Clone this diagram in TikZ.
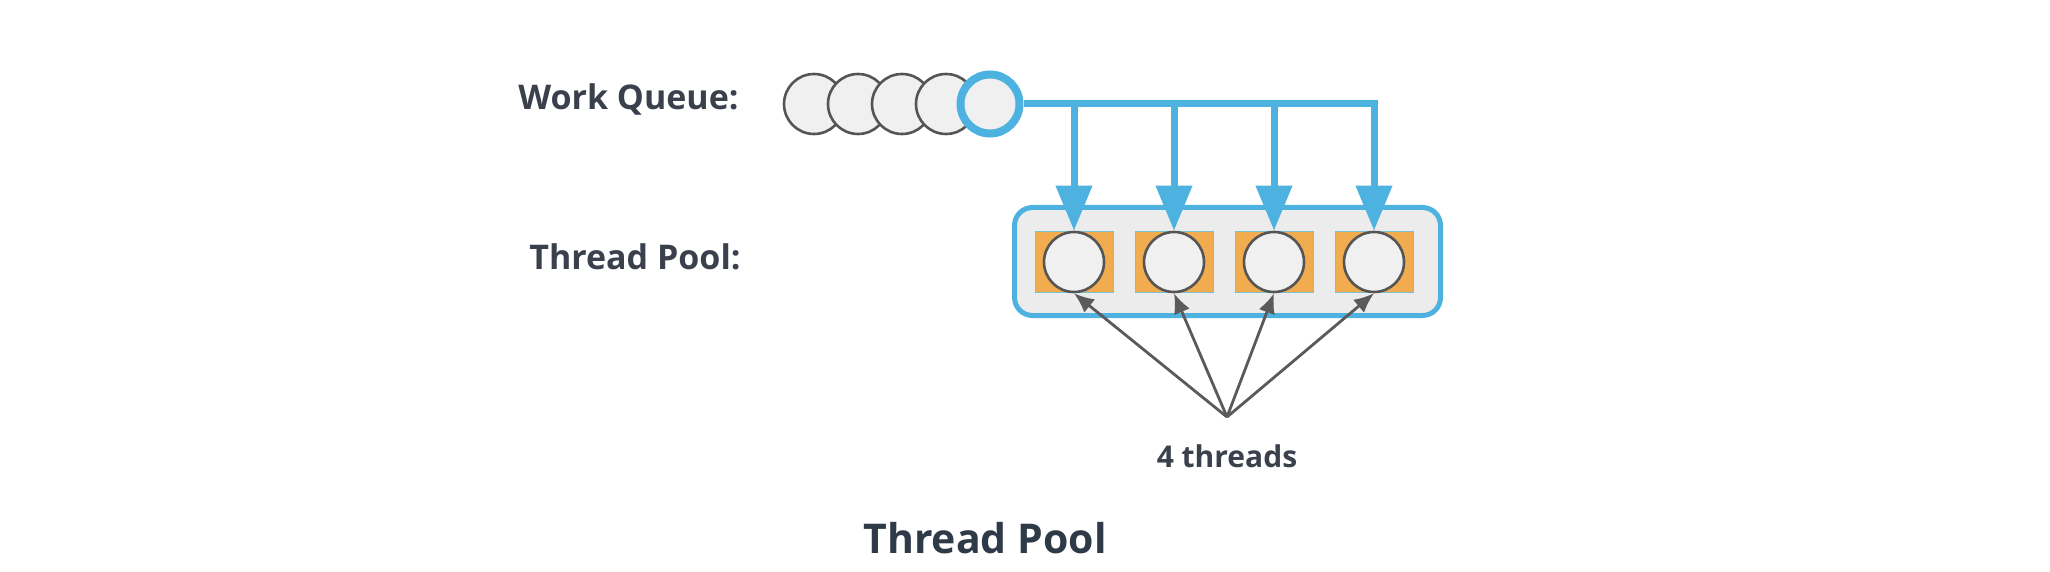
\documentclass[tikz,border=0pt]{standalone}
\usepackage{fontspec}
\setmainfont{Open Sans}
\usetikzlibrary{arrows.meta}
\definecolor{qblue}{RGB}{78,178,224}
\definecolor{circgray}{RGB}{85,85,85}
\definecolor{cfill}{RGB}{240,240,240}
\definecolor{poolfill}{RGB}{236,236,236}
\definecolor{slotorange}{RGB}{240,172,78}
\definecolor{slotedge}{RGB}{120,195,210}
\definecolor{arrgray}{RGB}{90,90,90}
\definecolor{labcol}{RGB}{58,64,76}
\definecolor{capcol}{RGB}{46,58,72}
\begin{document}
\begin{tikzpicture}[x=0.5pt,y=-0.5pt,
  qcirc/.style={circle, draw=circgray, fill=cfill, line width=1.3pt, minimum size=30pt, inner sep=0pt},
  headc/.style={qcirc, draw=qblue, line width=4pt, minimum size=29.5pt},
  pool/.style={rectangle, draw=qblue, fill=poolfill, line width=2.5pt, rounded corners=9pt, minimum width=213pt, minimum height=54pt, inner sep=0pt},
  slot/.style={rectangle, fill=slotorange, draw=slotedge, line width=0.5pt, minimum width=39pt, minimum height=30.5pt, inner sep=0pt},
  barrow/.style={draw=qblue, line width=3.5pt, -{Triangle[width=17.5pt,length=22.5pt]}},
  garrow/.style={draw=arrgray, line width=1.4pt, -{Latex[length=10pt,width=8.5pt]}},
  lab/.style={font=\bfseries\fontsize{17}{21}\selectfont, text=labcol, inner sep=0pt},
  smalltext/.style={font=\bfseries\fontsize{15}{18}\selectfont, text=labcol, inner sep=0pt},
  captext/.style={font=\bfseries\fontsize{20.5}{24}\selectfont, text=capcol, inner sep=0pt}]
\useasboundingbox (0,0) rectangle (2050,572);
% labels
\node[lab, anchor=base east] (wq) at (739,110) {Work Queue:};
\node[lab, anchor=base east] (tp) at (741,270) {Thread Pool:};
% queue
\node[qcirc] (q1) at (814,104) {};
\node[qcirc] (q2) at (858,104) {};
\node[qcirc] (q3) at (902,104) {};
\node[qcirc] (q4) at (946,104) {};
\node[headc] (q5) at (990,104) {};
% pool
\node[pool] (pool) at (1227.5,261.5) {};
\foreach \i/\x in {1/1074,2/1174,3/1274,4/1374}{
  \node[slot] (s\i) at (\x,262) {};
  \node[qcirc] (t\i) at (\x,262) {};
}
% blue connectors
\draw[barrow] (q5.east) -| (t4.north);
\draw[barrow] (q5.east -| t1.north) -- (t1.north);
\draw[barrow] (q5.east -| t2.north) -- (t2.north);
\draw[barrow] (q5.east -| t3.north) -- (t3.north);
% threads pointer
\coordinate (src) at (1227,417);
\foreach \i in {1,2,3,4}{
  \draw[garrow] (src) -- (t\i.south);
}
\node[smalltext, anchor=base] (four) at (1227,467) {4 threads};
\node[captext, anchor=base] (caption) at (985,553) {Thread Pool};
\end{tikzpicture}
\end{document}
